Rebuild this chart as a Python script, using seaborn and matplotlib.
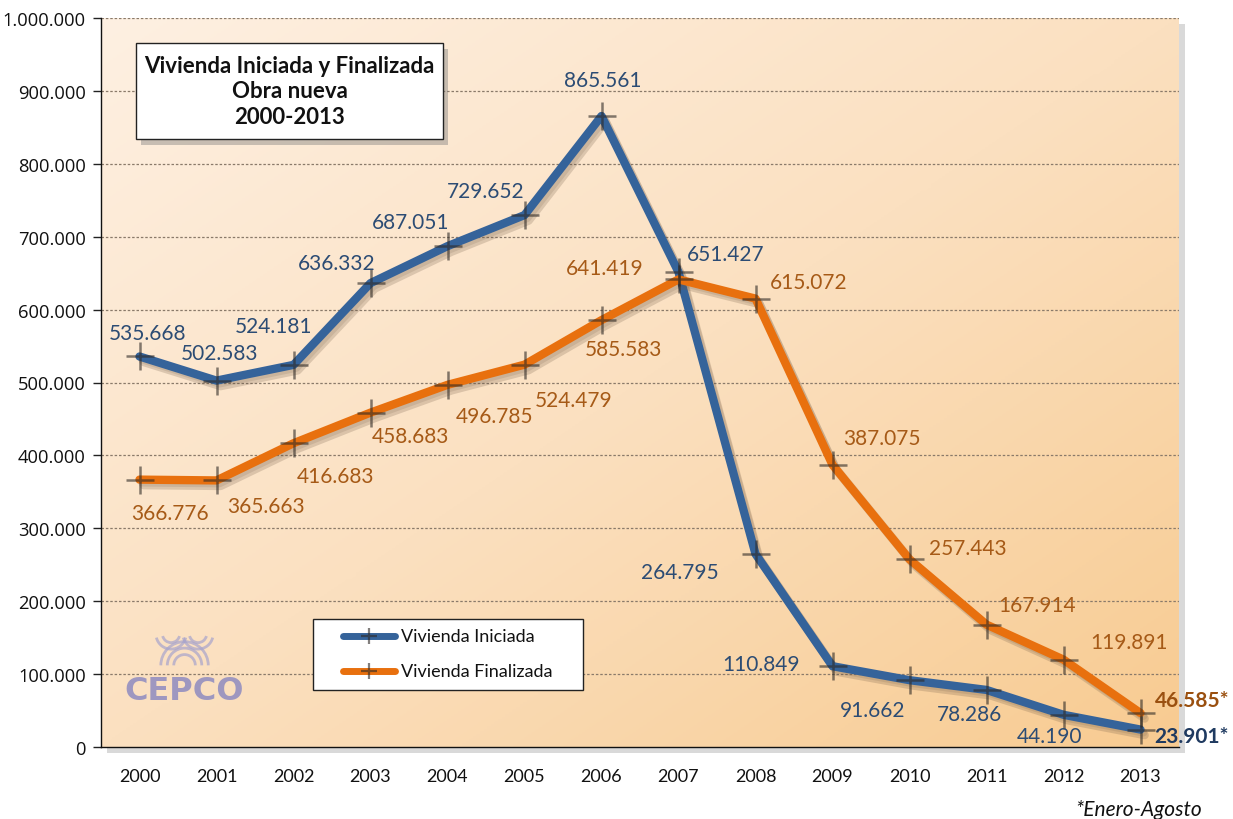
import numpy as np
import pandas as pd
import matplotlib
matplotlib.use("Agg")
import matplotlib.pyplot as plt
import matplotlib.patheffects as pe
from matplotlib.colors import LinearSegmentedColormap
from matplotlib.patches import Rectangle, Arc
import seaborn as sns

# ---- data ----
years = ["2000", "2001", "2002", "2003", "2004", "2005", "2006",
         "2007", "2008", "2009", "2010", "2011", "2012", "2013"]
iniciada = [535668, 502583, 524181, 636332, 687051, 729652, 865561,
            651427, 264795, 110849, 91662, 78286, 44190, 23901]
finalizada = [366776, 365663, 416683, 458683, 496785, 524479, 585583,
              641419, 615072, 387075, 257443, 167914, 119891, 46585]
iniciada_labels = ["535.668", "502.583", "524.181", "636.332", "687.051", "729.652", "865.561",
                   "651.427", "264.795", "110.849", "91.662", "78.286", "44.190", "23.901*"]
finalizada_labels = ["366.776", "365.663", "416.683", "458.683", "496.785", "524.479", "585.583",
                     "641.419", "615.072", "387.075", "257.443", "167.914", "119.891", "46.585*"]
ytick_vals = [0, 100000, 200000, 300000, 400000, 500000, 600000, 700000, 800000, 900000, 1000000]
ytick_labels = ["0", "100.000", "200.000", "300.000", "400.000", "500.000", "600.000",
                "700.000", "800.000", "900.000", "1.000.000"]
series_names = ["Vivienda Iniciada", "Vivienda Finalizada"]

# label offsets in pixels (layout only; last label is left-aligned)
ini_off = [(8, 23), (3, 28), (-20, 39), (-34, 20), (-37, 24), (-39, 24), (1, 36),
           (47, 18), (-76, -18), (-71, 2), (-37, -30), (-17, -24), (-14, -21), (14, -6)]
fin_off = [(30, -33), (49, -26), (42, -33), (40, -23), (47, -31), (49, -35), (22, -29),
           (-74, 11), (53, 17), (49, 27), (58, 11), (51, 20), (66, 18), (14, 13)]

BLUE = "#35639A"
ORANGE = "#E8700E"
BLUE_TXT = "#2C4C74"
ORANGE_TXT = "#A65A17"

sns.set_theme(style="white")
plt.rcParams["font.family"] = ["Lato", "DejaVu Sans"]

df = pd.DataFrame({
    "pos": list(range(len(years))) * 2,
    "value": iniciada + finalizada,
    "serie": [series_names[0]] * len(years) + [series_names[1]] * len(years),
})

fig = plt.figure(figsize=(12.33, 8.2), dpi=100)
fig.patch.set_facecolor("white")
ax = fig.add_axes([101 / 1233, 1 - 748 / 820, (1179 - 101) / 1233, (748 - 19) / 820])

# drop shadow of plot area
fig.patches.append(Rectangle((101 / 1233 + 0.005, 1 - 754 / 820), (1179 - 101) / 1233, (748 - 19) / 820,
                             transform=fig.transFigure, facecolor="#a0a0a0", alpha=0.4, zorder=-5,
                             edgecolor="none"))

# gradient background
cmap = LinearSegmentedColormap.from_list("bg", ["#FEF0E2", "#FBE0C0", "#F8CB91"])
gx, gy = np.meshgrid(np.linspace(0, 1, 300), np.linspace(0, 1, 300))
grad = (gx + gy) / 2
ax.imshow(grad, extent=[0, 1, 0, 1], transform=ax.transAxes, cmap=cmap,
          aspect="auto", zorder=0, origin="upper")

ax.set_xlim(-0.5, len(years) - 0.5)
ax.set_ylim(0, 1000000)

n_before = len(ax.lines)
sns.lineplot(data=df, x="pos", y="value", hue="serie", palette=[BLUE, ORANGE],
             hue_order=series_names, lw=6, ax=ax, legend=False, zorder=3,
             solid_capstyle="round", solid_joinstyle="round", sort=False)
shadow_fx = [pe.SimpleLineShadow(offset=(3, -4), shadow_color="#6a5440", alpha=0.22, rho=1),
             pe.SimpleLineShadow(offset=(2, -2), shadow_color="#6a5440", alpha=0.15, rho=1),
             pe.Normal()]
for ln in ax.lines[n_before:]:
    ln.set_path_effects(shadow_fx)

# grid
for v in ytick_vals[1:]:
    ax.axhline(v, color="#8a7a6a", lw=0.9, ls=(0, (2, 1.5)), zorder=1)

sns.scatterplot(data=df, x="pos", y="value", marker="+", s=380, color="#2f2a26",
                alpha=0.6, linewidth=1.8, ax=ax, legend=False, zorder=4)

# data labels
n = len(years)
for i in range(n):
    last = i == n - 1
    ax.annotate(iniciada_labels[i], (i, iniciada[i]), xytext=ini_off[i], textcoords="offset pixels",
                ha="left" if last else "center", va="center", fontsize=15,
                color="#1F3A60" if last else BLUE_TXT,
                fontweight="bold" if last else "normal", zorder=6)
    ax.annotate(finalizada_labels[i], (i, finalizada[i]), xytext=fin_off[i], textcoords="offset pixels",
                ha="left" if last else "center", va="center", fontsize=15,
                color="#9A5010" if last else ORANGE_TXT,
                fontweight="bold" if last else "normal", zorder=6, annotation_clip=False)

# axes styling
ax.set_xticks(range(n))
ax.set_xticklabels(years, fontsize=13, color="#111111")
ax.set_xticks(np.arange(-0.5, n, 1), minor=True)
ax.tick_params(axis="x", which="major", length=0, pad=15)
ax.tick_params(axis="x", which="minor", length=6, width=1, color="#222222", direction="out")
ax.set_yticks(ytick_vals)
ax.set_yticklabels(ytick_labels, fontsize=13.2, color="#111111", family=["Open Sans", "DejaVu Sans"])
ax.tick_params(axis="y", length=6, width=1, color="#222222", direction="out", left=True, pad=5)
ax.set_xlabel("")
ax.set_ylabel("")
for s in ["top", "right"]:
    ax.spines[s].set_visible(False)
for s in ["left", "bottom"]:
    ax.spines[s].set_color("#111111")
    ax.spines[s].set_linewidth(1)
    ax.spines[s].set_zorder(5)

# title box
tb_x0, tb_y0, tb_w, tb_h = 136 / 1233, 1 - 140 / 820, (443 - 136) / 1233, (140 - 44) / 820
fig.patches.append(Rectangle((tb_x0 + 0.004, tb_y0 - 0.007), tb_w, tb_h, transform=fig.transFigure,
                             facecolor="#777777", alpha=0.4, edgecolor="none", zorder=6))
fig.patches.append(Rectangle((tb_x0, tb_y0), tb_w, tb_h, transform=fig.transFigure,
                             facecolor="white", edgecolor="#222222", lw=1, zorder=7))
fig.text(tb_x0 + tb_w / 2, tb_y0 + tb_h / 2, "Vivienda Iniciada y Finalizada\nObra nueva\n2000-2013",
         ha="center", va="center", fontsize=16, fontweight="bold", color="#111111",
         linespacing=1.25, zorder=8)

# legend box
lg_x0, lg_y0, lg_w, lg_h = 313 / 1233, 1 - 691 / 820, (583 - 313) / 1233, (691 - 620) / 820
fig.patches.append(Rectangle((lg_x0, lg_y0), lg_w, lg_h, transform=fig.transFigure,
                             facecolor="white", edgecolor="#222222", lw=1, zorder=7))
for k, (name, col) in enumerate(zip(series_names, [BLUE, ORANGE])):
    yy = 1 - (637 + 35 * k) / 820
    fig.add_artist(plt.Line2D([343 / 1233, 395 / 1233], [yy, yy], transform=fig.transFigure,
                              color=col, lw=5, solid_capstyle="round", zorder=8))
    fig.add_artist(plt.Line2D([369 / 1233], [yy], transform=fig.transFigure, marker="+",
                              markersize=11, mew=1.6, color="#2f2a26", alpha=0.6, zorder=9))
    fig.text(401 / 1233, yy, name, ha="left", va="center", fontsize=13, color="#111111", zorder=9)

# CEPCO watermark
ax.text(0.0775, 0.078, "CEPCO", transform=ax.transAxes, ha="center", va="center", fontsize=23,
        fontweight="black", color="#8E8BC0", alpha=0.85, zorder=2,
        family=["DejaVu Sans"])
asp = 1078 / 729
for r in [0.010, 0.016, 0.022]:
    ax.add_patch(Arc((0.0775, 0.112), r * 2, r * 2 * asp, theta1=0, theta2=180,
                     transform=ax.transAxes, color="#A7A4CC", lw=2, alpha=0.7, zorder=2))
for cx in [0.065, 0.09]:
    for r in [0.008, 0.014]:
        ax.add_patch(Arc((cx, 0.155), r * 2, r * 2 * asp, theta1=200, theta2=340,
                         transform=ax.transAxes, color="#A7A4CC", lw=2, alpha=0.7, zorder=2))

# footnote
fig.text(1139 / 1233, 1 - 810 / 820, "*Enero-Agosto", ha="center", va="center", fontsize=15,
         style="italic", color="#111111")

fig.savefig("out.png", dpi=100, facecolor="white")
